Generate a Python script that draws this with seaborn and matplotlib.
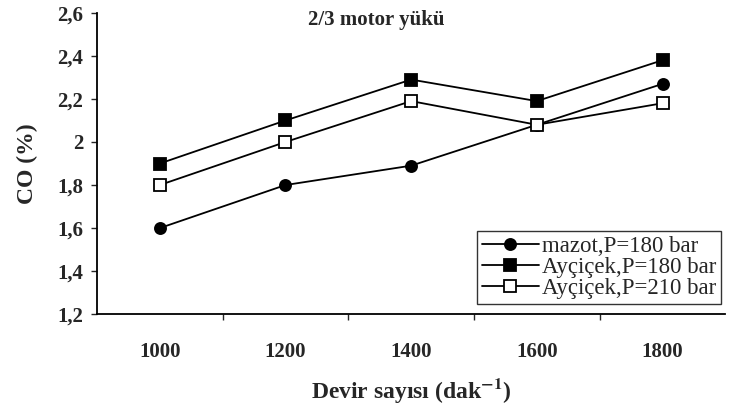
import matplotlib
matplotlib.use("Agg")
import numpy as np
import pandas as pd
import matplotlib.pyplot as plt
import seaborn as sns

# Data
devir = [1000, 1200, 1400, 1600, 1800]
mazot_180 = [1.60, 1.80, 1.89, 2.08, 2.27]
aycicek_180 = [1.90, 2.10, 2.29, 2.19, 2.38]
aycicek_210 = [1.80, 2.00, 2.19, 2.08, 2.18]
labels = ["mazot,P=180 bar", "Ayçiçek,P=180 bar", "Ayçiçek,P=210 bar"]

sns.set_style("ticks")
plt.rcParams['font.family'] = ['Liberation Serif', 'DejaVu Serif']
plt.rcParams['mathtext.fontset'] = 'stix'

fig = plt.figure(figsize=(7.29, 4.15), dpi=100)
ax = fig.add_axes([0.133, 0.243, 0.862, 0.726])

series = [mazot_180, aycicek_180, aycicek_210]
markers = ["o", "s", "s"]
faces = ["black", "black", "white"]
for vals, lab, m, fc in zip(series, labels, markers, faces):
    sns.lineplot(x=devir, y=vals, ax=ax, color="black", lw=1.3,
                 marker=m, markersize=8, markerfacecolor=fc,
                 markeredgecolor="black", markeredgewidth=1.3, label=lab)

ax.set_xlim(900, 1900)
ax.set_ylim(1.2, 2.6)
ax.set_xticks(devir)
ax.set_xticks([1100, 1300, 1500, 1700], minor=True)
ax.tick_params(axis="x", which="major", length=0, pad=20)
ax.tick_params(axis="x", which="minor", length=4, direction="out", width=1)
ax.set_yticks(np.arange(1.2, 2.61, 0.2))
ax.set_yticklabels(["1,2", "1,4", "1,6", "1,8", "2", "2,2", "2,4", "2,6"])
ax.tick_params(axis="y", length=4, width=1, direction="out", pad=6)
for t in ax.get_xticklabels() + ax.get_yticklabels():
    t.set_fontsize(15)
    t.set_fontweight("bold")

for s in ["top", "right"]:
    ax.spines[s].set_visible(False)
for s in ["left", "bottom"]:
    ax.spines[s].set_linewidth(1.3)
    ax.spines[s].set_color("black")

ax.set_ylabel("CO (%)", fontsize=17, fontweight="bold", labelpad=14)
ax.set_xlabel(r"Devir sayısı (dak$^{\mathbf{-1}}$)", fontsize=17, fontweight="bold", labelpad=10)
ax.text(0.444, 1.01, "2/3 motor yükü", transform=ax.transAxes, ha="center",
        va="top", fontsize=15, fontweight="bold")

leg = ax.legend(loc="lower left", bbox_to_anchor=(0.605, 0.035), fontsize=16.5,
                frameon=True, fancybox=False, edgecolor="black",
                handlelength=2.5, handletextpad=0.15, borderpad=0.2,
                labelspacing=0.0, borderaxespad=0)
leg.get_frame().set_linewidth(1.0)

fig.savefig("out.png", dpi=100)
